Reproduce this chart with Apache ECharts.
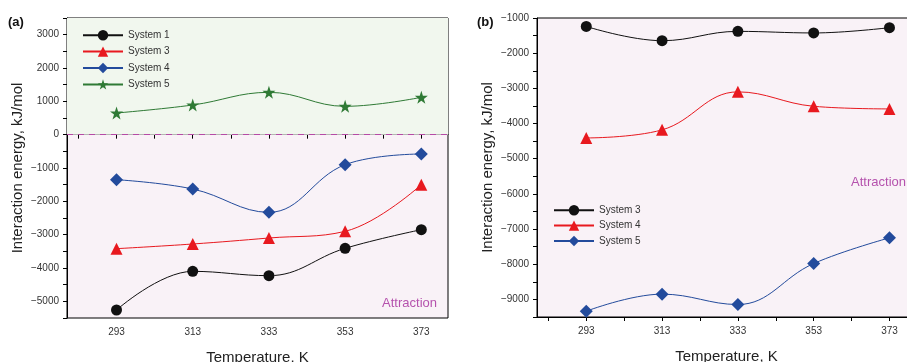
<!DOCTYPE html>
<html>
<head>
<meta charset="utf-8">
<script src="https://cdn.jsdelivr.net/npm/echarts@6/dist/echarts.min.js"></script>
<style>
  html, body { margin: 0; padding: 0; background: #fff; }
  #chart { width: 907px; height: 362px; }
</style>
</head>
<body>
<div id="chart"></div>
<script>
// temperatures (K)
const temps = [293, 313, 333, 353, 373]
const xTickLabels = [293, 313, 333, 353, 373]
const xTicks = [283, 293, 303, 313, 323, 333, 343, 353, 363, 373]

// panel (a)
const aSys1 = [-5260, -4100, -4230, -3410, -2850]
const aSys3 = [-3420, -3280, -3100, -2900, -1500]
const aSys4 = [-1350, -1630, -2330, -900, -580]
const aSys5 = [650, 890, 1270, 850, 1120]
const aYLabels = [-5000, -4000, -3000, -2000, -1000, 0, 1000, 2000, 3000]
const aYTicks = [-5500, -5000, -4500, -4000, -3500, -3000, -2500, -2000, -1500, -1000, -500, 0, 500, 1000, 1500, 2000, 2500, 3000, 3500]
const aRepulsion = [0, 3500]

// panel (b)
const bSys3 = [-1240, -1645, -1380, -1425, -1275]
const bSys4 = [-4410, -4180, -3100, -3510, -3585]
const bSys5 = [-9335, -8850, -9145, -7980, -7250]
const bYLabels = [-9000, -8000, -7000, -6000, -5000, -4000, -3000, -2000, -1000]
const bYTicks = [-9500, -9000, -8500, -8000, -7500, -7000, -6500, -6000, -5500, -5000, -4500, -4000, -3500, -3000, -2500, -2000, -1500, -1000]

const FONT = 'Liberation Sans'
const BLACK = '#111111'
const RED = '#e8191f'
const BLUE = '#234b9c'
const GREEN = '#2f7a35'
const STAR = 'path://M50,0 L61.8,35.3 L98.5,35.3 L68.8,57.1 L79.9,92.3 L50,70.5 L20.1,92.3 L31.2,57.1 L1.5,35.3 L38.2,35.3 Z'

const pairs = ys => temps.map((t, i) => [t, ys[i]])
const fmt = v => String(v).replace('-', '\u2212')

function xAxis (gridIndex) {
  return {
    type: 'value',
    gridIndex,
    min: 280,
    max: 380,
    name: 'Temperature, K',
    nameLocation: 'middle',
    nameGap: 32,
    nameTextStyle: { fontFamily: FONT, fontSize: 15, color: '#222' },
    axisLine: { lineStyle: { color: '#000', width: 1 } },
    axisTick: { show: true, inside: false, length: 4, customValues: xTicks, lineStyle: { color: '#000' } },
    axisLabel: { customValues: xTickLabels, margin: 9, fontFamily: FONT, fontSize: 10, color: '#333' },
    splitLine: { show: false }
  }
}

function yAxis (gridIndex, min, max, labels, ticks) {
  return {
    type: 'value',
    gridIndex,
    min,
    max,
    name: 'Interaction energy, kJ/mol',
    nameLocation: 'middle',
    nameGap: 42,
    nameTextStyle: { fontFamily: FONT, fontSize: 15, color: '#222' },
    axisLine: { show: true, lineStyle: { color: '#000', width: 1 } },
    axisTick: { show: true, length: 4, customValues: ticks, lineStyle: { color: '#000' } },
    axisLabel: { customValues: labels, margin: 8, fontFamily: FONT, fontSize: 10, color: '#333', formatter: fmt },
    splitLine: { show: false }
  }
}

function line (name, idx, data, color, symbol, size) {
  return {
    name,
    type: 'line',
    xAxisIndex: idx,
    yAxisIndex: idx,
    data: pairs(data),
    smooth: 0.4,
    symbol,
    symbolSize: size,
    showSymbol: true,
    lineStyle: { color, width: 1 },
    itemStyle: { color },
    z: 3
  }
}

const chart = echarts.init(document.getElementById('chart'), null, { renderer: 'canvas' })

const s5 = line('a:System 5', 0, aSys5, GREEN, STAR, 13)
s5.markArea = {
  silent: true,
  itemStyle: { color: '#f1f7ee' },
  data: [[{ yAxis: aRepulsion[0] }, { yAxis: aRepulsion[1] }]]
}
s5.markLine = {
  silent: true,
  symbol: 'none',
  label: { show: false },
  lineStyle: { color: '#b64aa6', type: [6, 5], width: 1 },
  data: [{ yAxis: 0 }]
}

const legendBase = {
  orient: 'vertical',
  padding: 0,
  itemWidth: 40,
  itemHeight: 13,
  itemGap: 6,
  formatter: n => n.split(':')[1],
  textStyle: { fontFamily: FONT, fontSize: 10, color: '#333' }
}

const gridBase = {
  show: true,
  backgroundColor: '#f9f2f7',
  borderColor: '#000',
  borderWidth: 1,
  containLabel: false,
  outerBoundsMode: 'none'
}

const option = {
  animation: false,
  textStyle: { fontFamily: FONT },
  grid: [
    Object.assign({}, gridBase, { left: 67, top: 18, width: 381, height: 300 }),
    Object.assign({}, gridBase, { left: 537, top: 18, width: 379, height: 299 })
  ],
  xAxis: [xAxis(0), xAxis(1)],
  yAxis: [
    yAxis(0, -5500, 3500, aYLabels, aYTicks),
    yAxis(1, -9500, -1000, bYLabels, bYTicks)
  ],
  legend: [
    Object.assign({}, legendBase, {
      left: 82,
      top: 30,
      data: ['a:System 1', 'a:System 3', 'a:System 4', 'a:System 5']
    }),
    Object.assign({}, legendBase, {
      left: 553,
      top: 205,
      itemGap: 5,
      data: ['b:System 3', 'b:System 4', 'b:System 5']
    })
  ],
  graphic: [
    { type: 'text', left: 8, top: 16, style: { text: '(a)', font: 'bold 13px "Liberation Sans"', fill: '#111' } },
    { type: 'text', left: 477, top: 16, style: { text: '(b)', font: 'bold 13px "Liberation Sans"', fill: '#111' } },
    { type: 'text', right: 470, top: 24, style: { text: 'Repulsion', font: '13px "Liberation Sans"', fill: '#4f8a2e' } },
    { type: 'text', right: 470, top: 297, style: { text: 'Attraction', font: '13px "Liberation Sans"', fill: '#b552ad' } },
    { type: 'text', right: 1, top: 176, style: { text: 'Attraction', font: '13px "Liberation Sans"', fill: '#b552ad' } }
  ],
  series: [
    line('a:System 1', 0, aSys1, BLACK, 'circle', 11),
    line('a:System 3', 0, aSys3, RED, 'triangle', 12),
    line('a:System 4', 0, aSys4, BLUE, 'diamond', 13),
    s5,
    line('b:System 3', 1, bSys3, BLACK, 'circle', 11),
    line('b:System 4', 1, bSys4, RED, 'triangle', 12),
    line('b:System 5', 1, bSys5, BLUE, 'diamond', 13)
  ]
}

chart.setOption(option)
</script>
</body>
</html>
